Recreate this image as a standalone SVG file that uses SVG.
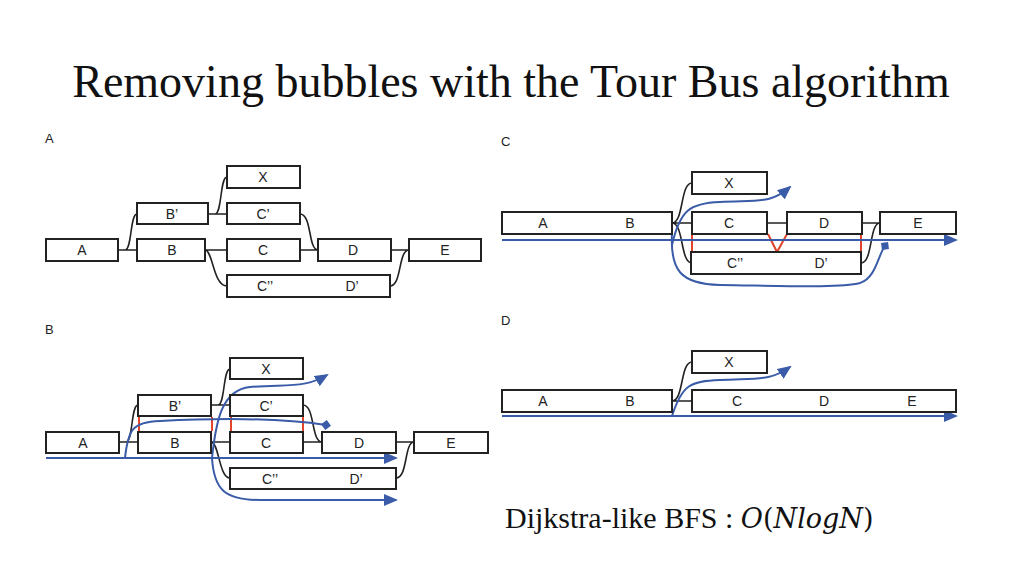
<svg xmlns="http://www.w3.org/2000/svg" width="1024" height="576" viewBox="0 0 1024 576">
<style>
.n{fill:#fff;stroke:#222;stroke-width:2}
.t{font-family:"Liberation Sans",Arial,sans-serif;font-size:14px;fill:#222;text-anchor:middle}
.p{font-family:"Liberation Sans",Arial,sans-serif;font-size:13px;fill:#222}
.c{fill:none;stroke:#222;stroke-width:1.6}
.b{fill:none;stroke:#3a5ba8;stroke-width:2}
.r{stroke:#e0452a;stroke-width:2;fill:none}
</style>
<defs>
<marker id="ar" viewBox="0 0 14 12" refX="12" refY="6" markerWidth="14" markerHeight="12" orient="auto" markerUnits="userSpaceOnUse"><path d="M0,0L14,6L0,12z" fill="#3a5ba8"/></marker>
<marker id="dm" viewBox="0 0 10 10" refX="5" refY="5" markerWidth="10" markerHeight="10" orient="auto" markerUnits="userSpaceOnUse"><path d="M0,5L5,0L10,5L5,10z" fill="#3a5ba8"/></marker>
</defs>
<rect width="1024" height="576" fill="#fff"/>
<text x="511" y="97" font-family="Liberation Serif,Times New Roman,serif" font-size="46" text-anchor="middle" fill="#111">Removing bubbles with the Tour Bus algorithm</text>
<text x="505" y="528" font-family="Liberation Serif,Times New Roman,serif" font-size="30" fill="#111">Dijkstra-like BFS : <tspan font-family="DejaVu Serif,serif" font-size="27" font-style="italic">O</tspan><tspan font-family="DejaVu Serif,serif" font-size="27">(</tspan><tspan font-family="DejaVu Serif,serif" font-size="27" font-style="italic">NlogN</tspan><tspan font-family="DejaVu Serif,serif" font-size="27">)</tspan></text>

<text class="p" x="45" y="143">A</text>
<text class="p" x="45" y="334">B</text>
<text class="p" x="501" y="146">C</text>
<text class="p" x="501" y="325">D</text>

<g id="connectors">
<path class="c" d="M118,250H125C132,250 130,214 137,214M118,250H137M208,214H215C222,214 220,177 227,177M208,214H227M205,250H227M205,250C213,250 213,286 227,286M300,214C312,214 308,250 318,250M300,250H318M391,250H409M390,286C402,286 398,250 409,250"/>
<path class="c" d="M119,442H126C133,442 131,405 138,405M119,442H138M211,405H218C225,405 223,369 230,369M211,405H230M211,442H230M211,442C219,442 219,478 230,478M303,405C315,405 311,442 322,442M303,442H322M396,442H414M396,478C408,478 404,442 414,442"/>
<path class="r" d="M139,417V431M212,417V431M231,417V431M303,417V431"/>
<path class="b" marker-end="url(#ar)" d="M46,458H396"/>
<path class="b" marker-end="url(#dm)" d="M125,458C128,430 132,422 160,421C220,418 280,418 326,425"/>
<path class="b" marker-end="url(#ar)" d="M212,458C216,420 222,390 250,387C290,384 305,388 327,375"/>
<path class="b" marker-end="url(#ar)" d="M212,458C214,490 225,500 260,500H396"/>
<path class="c" d="M672,223C684,223 680,183 692,183M672,223H692M672,223C684,223 680,263 692,263M767,223H787M862,223H880M861,263C873,263 869,223 880,223"/>
<path class="r" d="M692,234V252M861,234V252M768,234L777,252L787,234"/>
<path class="b" marker-end="url(#ar)" d="M502,240H956"/>
<path class="b" marker-end="url(#ar)" d="M672,245C680,210 690,203 720,202C760,200 770,204 790,187"/>
<path class="b" marker-end="url(#dm)" d="M672,233C670,270 680,284 720,285C790,286 840,288 860,283C876,278 878,255 885,246"/>
<path class="c" d="M672,401C684,401 680,362 692,362M672,401H692"/>
<path class="b" marker-end="url(#ar)" d="M502,416H956"/>
<path class="b" marker-end="url(#ar)" d="M672,416C682,385 690,381 720,380C760,378 770,381 790,367"/>
</g>

<g id="panelA">
<rect class="n" x="227" y="166" width="73" height="22"/><text class="t" x="263" y="182">X</text>
<rect class="n" x="137" y="203" width="71" height="21"/><text class="t" x="172" y="219">B’</text>
<rect class="n" x="227" y="203" width="73" height="21"/><text class="t" x="263" y="219">C’</text>
<rect class="n" x="46" y="239" width="72" height="22"/><text class="t" x="82" y="255">A</text>
<rect class="n" x="137" y="239" width="68" height="22"/><text class="t" x="172" y="255">B</text>
<rect class="n" x="227" y="239" width="73" height="22"/><text class="t" x="263" y="255">C</text>
<rect class="n" x="318" y="239" width="73" height="22"/><text class="t" x="353" y="255">D</text>
<rect class="n" x="409" y="239" width="72" height="22"/><text class="t" x="445" y="255">E</text>
<rect class="n" x="227" y="275" width="163" height="22"/><text class="t" x="265" y="291">C’’</text><text class="t" x="352" y="291">D’</text>
</g>
<g id="panelB">
<rect class="n" x="230" y="358" width="73" height="21"/><text class="t" x="266" y="374">X</text>
<rect class="n" x="138" y="395" width="73" height="21"/><text class="t" x="175" y="411">B’</text>
<rect class="n" x="230" y="395" width="73" height="21"/><text class="t" x="266" y="411">C’</text>
<rect class="n" x="46" y="432" width="73" height="21"/><text class="t" x="83" y="448">A</text>
<rect class="n" x="138" y="432" width="73" height="21"/><text class="t" x="175" y="448">B</text>
<rect class="n" x="230" y="432" width="73" height="21"/><text class="t" x="266" y="448">C</text>
<rect class="n" x="322" y="432" width="74" height="21"/><text class="t" x="359" y="448">D</text>
<rect class="n" x="414" y="432" width="74" height="21"/><text class="t" x="451" y="448">E</text>
<rect class="n" x="230" y="468" width="166" height="21"/><text class="t" x="270" y="484">C’’</text><text class="t" x="356" y="484">D’</text>
</g>
<g id="panelC">
<rect class="n" x="692" y="172" width="75" height="22"/><text class="t" x="729" y="188">X</text>
<rect class="n" x="502" y="212" width="170" height="22"/><text class="t" x="543" y="228">A</text><text class="t" x="630" y="228">B</text>
<rect class="n" x="692" y="212" width="75" height="22"/><text class="t" x="729" y="228">C</text>
<rect class="n" x="787" y="212" width="75" height="22"/><text class="t" x="824" y="228">D</text>
<rect class="n" x="880" y="212" width="76" height="22"/><text class="t" x="918" y="228">E</text>
<rect class="n" x="691" y="252" width="170" height="22"/><text class="t" x="735" y="268">C’’</text><text class="t" x="821" y="268">D’</text>
</g>
<g id="panelD">
<rect class="n" x="692" y="351" width="75" height="22"/><text class="t" x="729" y="367">X</text>
<rect class="n" x="502" y="390" width="170" height="22"/><text class="t" x="543" y="406">A</text><text class="t" x="630" y="406">B</text>
<rect class="n" x="692" y="390" width="264" height="22"/><text class="t" x="737" y="406">C</text><text class="t" x="824" y="406">D</text><text class="t" x="912" y="406">E</text>
</g>
</svg>
